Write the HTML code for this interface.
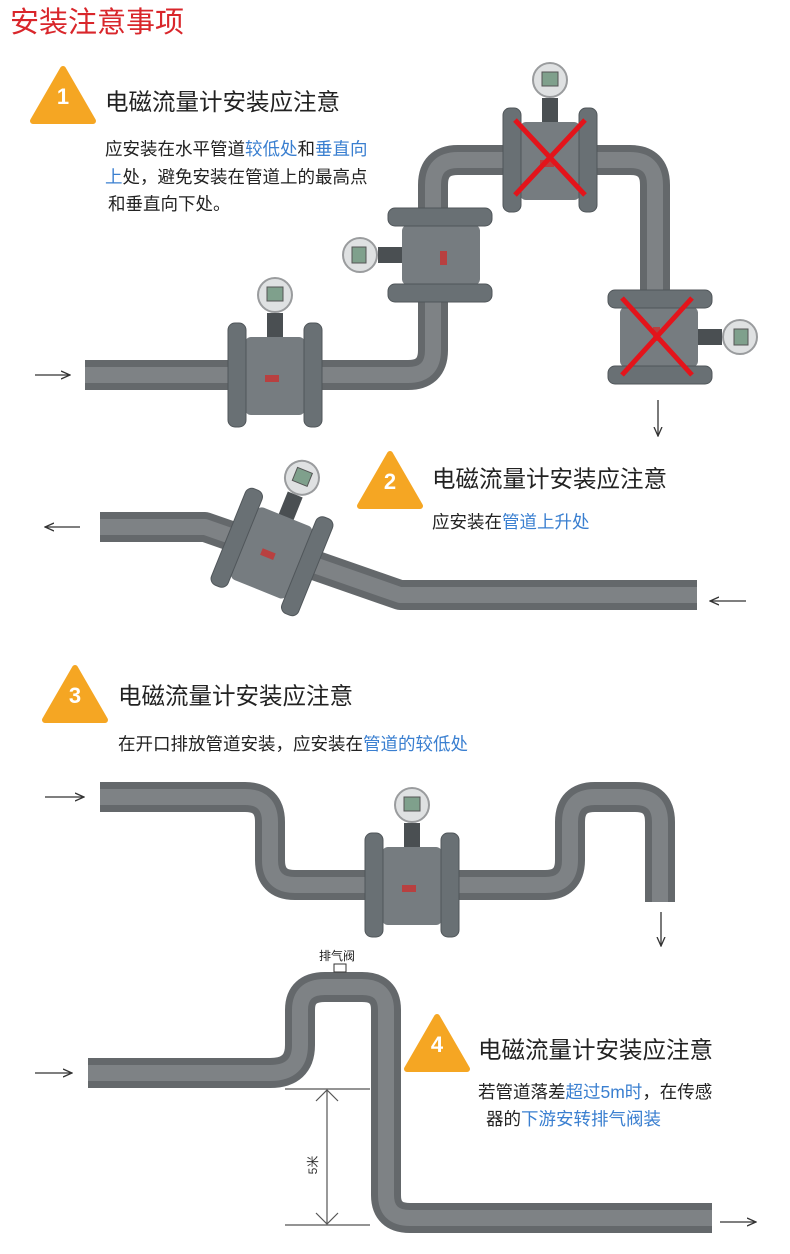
<!DOCTYPE html>
<html><head><meta charset="utf-8"><style>
html,body{margin:0;padding:0;background:#fff;width:790px;height:1254px;overflow:hidden}
svg{display:block}
text{font-family:"Liberation Sans","Noto Sans CJK SC",sans-serif}
.t{font-size:23.5px;fill:#222}
.b{font-size:17.5px;fill:#222}
.bl{fill:#3a7fd0}
.n{font-size:22px;fill:#fff;font-weight:bold}
</style></head><body>
<svg width="790" height="1254" viewBox="0 0 790 1254" xmlns="http://www.w3.org/2000/svg">
<defs>
<g id="m">
 <rect x="-8" y="-62" width="16" height="30" fill="#4a4f52"/>
 <circle cx="0" cy="-80" r="17" fill="#dfe1e2" stroke="#9a9c9e" stroke-width="2"/>
 <rect x="-8" y="-88" width="16" height="14" fill="#7fa08c" stroke="#555" stroke-width="1"/>
 <rect x="-30" y="-38" width="60" height="78" rx="6" fill="#767c80"/>
 <rect x="-10" y="0" width="14" height="7" fill="#b84040"/>
 <rect x="-47" y="-52" width="18" height="104" rx="7" fill="#697074" stroke="#50565a"/>
 <rect x="29" y="-52" width="18" height="104" rx="7" fill="#697074" stroke="#50565a"/>
</g>
<g id="tri">
 <path d="M0,-27 L30,25 L-30,25 Z" fill="#f5a623" stroke="#f5a623" stroke-width="6" stroke-linejoin="round"/>
</g>
<marker id="ar" markerWidth="10" markerHeight="10" refX="9" refY="5" orient="auto" markerUnits="userSpaceOnUse"><path d="M0,1 L9,5 L0,9" fill="none" stroke="#333" stroke-width="1.3"/></marker>
</defs>

<text x="10" y="32" style="font-size:29px;fill:#d9262b">安装注意事项</text>

<!-- Section 1 -->
<use href="#tri" x="63" y="96"/><text x="63" y="104" class="n" text-anchor="middle">1</text>
<text x="105" y="110" class="t">电磁流量计安装应注意</text>
<text x="105" y="155" class="b">应安装在水平管道<tspan class="bl">较低处</tspan>和<tspan class="bl">垂直向</tspan></text>
<text x="105" y="183" class="b"><tspan class="bl">上</tspan>处，避免安装在管道上的最高点</text>
<text x="108" y="210" class="b">和垂直向下处。</text>

<g fill="none" stroke-linejoin="round">
<path d="M85,375 H408 Q433,375 433,350 V185 Q433,160 458,160 H630 Q655,160 655,185 V380" stroke="#64686b" stroke-width="30"/>
<path d="M85,375 H408 Q433,375 433,350 V185 Q433,160 458,160 H630 Q655,160 655,185 V380" stroke="#7e8285" stroke-width="16"/>
</g>
<use href="#m" x="275" y="375"/>
<use href="#m" transform="translate(440,255) rotate(-90)"/>
<use href="#m" x="550" y="160"/>
<use href="#m" transform="translate(660,337) rotate(90)"/>
<path d="M515,120 L585,195 M585,120 L515,195" stroke="#e3141b" stroke-width="5"/>
<path d="M622,298 L692,375 M692,298 L622,375" stroke="#e3141b" stroke-width="5"/>
<line x1="35" y1="375" x2="70" y2="375" stroke="#333" stroke-width="1.3" marker-end="url(#ar)"/>
<line x1="658" y1="400" x2="658" y2="436" stroke="#333" stroke-width="1.3" marker-end="url(#ar)"/>

<!-- Section 2 -->
<use href="#tri" x="390" y="481"/><text x="390" y="489" class="n" text-anchor="middle">2</text>
<text x="432" y="487" class="t">电磁流量计安装应注意</text>
<text x="432" y="528" class="b">应安装在<tspan class="bl">管道上升处</tspan></text>
<g fill="none" stroke-linejoin="round">
<path d="M100,527 H205 L400,595 H697" stroke="#64686b" stroke-width="30"/>
<path d="M100,527 H205 L400,595 H697" stroke="#7e8285" stroke-width="16"/>
</g>
<use href="#m" transform="translate(272,552) rotate(22)"/>
<line x1="80" y1="527" x2="45" y2="527" stroke="#333" stroke-width="1.3" marker-end="url(#ar)"/>
<line x1="746" y1="601" x2="710" y2="601" stroke="#333" stroke-width="1.3" marker-end="url(#ar)"/>

<!-- Section 3 -->
<use href="#tri" x="75" y="695"/><text x="75" y="703" class="n" text-anchor="middle">3</text>
<text x="118" y="704" class="t">电磁流量计安装应注意</text>
<text x="118" y="750" class="b">在开口排放管道安装，应安装在<tspan class="bl">管道的较低处</tspan></text>
<g fill="none" stroke-linejoin="round">
<path d="M100,797 H245 Q270,797 270,822 V860 Q270,885 295,885 H545 Q570,885 570,860 V822 Q570,797 595,797 H635 Q660,797 660,822 V902" stroke="#64686b" stroke-width="30"/>
<path d="M100,797 H245 Q270,797 270,822 V860 Q270,885 295,885 H545 Q570,885 570,860 V822 Q570,797 595,797 H635 Q660,797 660,822 V902" stroke="#7e8285" stroke-width="16"/>
</g>
<use href="#m" x="412" y="885"/>
<line x1="45" y1="797" x2="84" y2="797" stroke="#333" stroke-width="1.3" marker-end="url(#ar)"/>
<line x1="661" y1="912" x2="661" y2="946" stroke="#333" stroke-width="1.3" marker-end="url(#ar)"/>

<!-- Section 4 -->
<g fill="none" stroke-linejoin="round">
<path d="M88,1073 H270 Q300,1073 300,1045 V1010 Q300,987 325,987 H362 Q386,987 386,1010 V1195 Q386,1218 410,1218 H712" stroke="#64686b" stroke-width="30"/>
<path d="M88,1073 H270 Q300,1073 300,1045 V1010 Q300,987 325,987 H362 Q386,987 386,1010 V1195 Q386,1218 410,1218 H712" stroke="#7e8285" stroke-width="16"/>
</g>
<rect x="334" y="964" width="12" height="8" fill="#fff" stroke="#333"/>
<text x="319" y="960" style="font-size:12px;fill:#222">排气阀</text>
<g stroke="#555" stroke-width="1.2" fill="none">
<line x1="285" y1="1089" x2="370" y2="1089"/>
<line x1="285" y1="1225" x2="370" y2="1225"/>
<line x1="327" y1="1090" x2="327" y2="1224"/>
<path d="M316,1101 L327,1090 L338,1101 M316,1213 L327,1224 L338,1213"/>
</g>
<text transform="translate(317,1165) rotate(-90)" style="font-size:12px;fill:#333" text-anchor="middle">5米</text>
<use href="#tri" x="437" y="1044"/><text x="437" y="1052" class="n" text-anchor="middle">4</text>
<text x="478" y="1058" class="t">电磁流量计安装应注意</text>
<text x="478" y="1098" class="b">若管道落差<tspan class="bl">超过5m时</tspan>，在传感</text>
<text x="486" y="1125" class="b">器的<tspan class="bl">下游安转排气阀装</tspan></text>
<line x1="35" y1="1073" x2="72" y2="1073" stroke="#333" stroke-width="1.3" marker-end="url(#ar)"/>
<line x1="720" y1="1222" x2="756" y2="1222" stroke="#333" stroke-width="1.3" marker-end="url(#ar)"/>
</svg>
</body></html>
